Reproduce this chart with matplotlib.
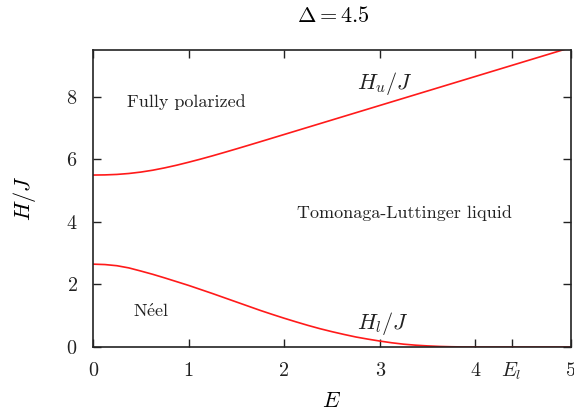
import matplotlib
matplotlib.use("Agg")
import matplotlib.pyplot as plt

plt.rcParams['font.family'] = ['cmr10', 'DejaVu Serif']
plt.rcParams['mathtext.fontset'] = 'cm'
plt.rcParams['axes.formatter.use_mathtext'] = True

E = [0.0, 0.125, 0.25, 0.375, 0.5, 0.625, 0.75, 0.875, 1.0, 1.125, 1.25, 1.375,
     1.5, 1.625, 1.75, 1.875, 2.0, 2.125, 2.25, 2.375, 2.5, 2.625, 2.75, 2.875,
     3.0, 3.125, 3.25, 3.375, 3.5, 3.625, 3.75, 3.875, 4.0, 4.25, 4.5, 4.75, 5.0]
H_u = [5.500, 5.505, 5.520, 5.550, 5.595, 5.655, 5.730, 5.815, 5.910, 6.010,
       6.115, 6.225, 6.337, 6.451, 6.566, 6.682, 6.798, 6.914, 7.030, 7.146,
       7.262, 7.378, 7.494, 7.610, 7.726, 7.842, 7.958, 8.074, 8.190, 8.306,
       8.422, 8.538, 8.654, 8.886, 9.118, 9.350, 9.582]
H_l = [2.650, 2.637, 2.600, 2.530, 2.430, 2.325, 2.210, 2.090, 1.970, 1.840,
       1.710, 1.575, 1.440, 1.305, 1.170, 1.043, 0.920, 0.803, 0.690, 0.585,
       0.490, 0.402, 0.320, 0.252, 0.190, 0.135, 0.090, 0.058, 0.035, 0.018,
       0.008, 0.002, 0.0, 0.0, 0.0, 0.0, 0.0]

xticks = [0, 1, 2, 3, 4, 4.38, 5]
xticklabels = ['0', '1', '2', '3', '4', r'$E_l$', '5']
yticks = [0, 2, 4, 6, 8]

fig = plt.figure(figsize=(5.74, 4.18), dpi=100)
ax = fig.add_axes([93/574, 71/418, 478/574, 297/418])

ax.plot(E, H_u, color='#ff1a1a', lw=1.2)
ax.plot(E, H_l, color='#ff1a1a', lw=1.2)

ax.set_xlim(0, 5)
ax.set_ylim(0, 9.5)
ax.set_xticks(xticks)
ax.set_xticklabels(xticklabels)
ax.set_yticks(yticks)
ax.tick_params(direction='in', length=6, width=1.0, top=True, right=True,
               labelsize=14.5, colors='#222222')
ax.tick_params(axis='x', pad=21)
ax.tick_params(axis='y', pad=11)
for lab in ax.get_xticklabels():
    lab.set_verticalalignment('baseline')
for s in ax.spines.values():
    s.set_linewidth(1.2)
    s.set_color('#222222')

ax.set_xlabel(r'$E$', fontsize=16, labelpad=7)
ax.set_ylabel(r'$H/J$', fontsize=16, labelpad=20)

fig.text(333/574, 1 - 16/418, r'$\Delta = 4.5$', ha='center', va='center', fontsize=16)

ax.text(0.36, 7.84, 'Fully polarized', fontsize=13, va='center', ha='left', color='#222222')
ax.text(2.13, 4.29, 'Tomonaga-Luttinger liquid', fontsize=13, va='center', ha='left', color='#222222')
ax.text(0.42, 1.15, r'$\mathrm{N\acute{e}el}$', fontsize=13, va='center', ha='left', color='#222222')
ax.text(2.76, 8.42, r'$H_u/J$', fontsize=16, va='center', ha='left', color='#222222')
ax.text(2.76, 0.76, r'$H_l/J$', fontsize=16, va='center', ha='left', color='#222222')

fig.savefig('out.png', dpi=100)
